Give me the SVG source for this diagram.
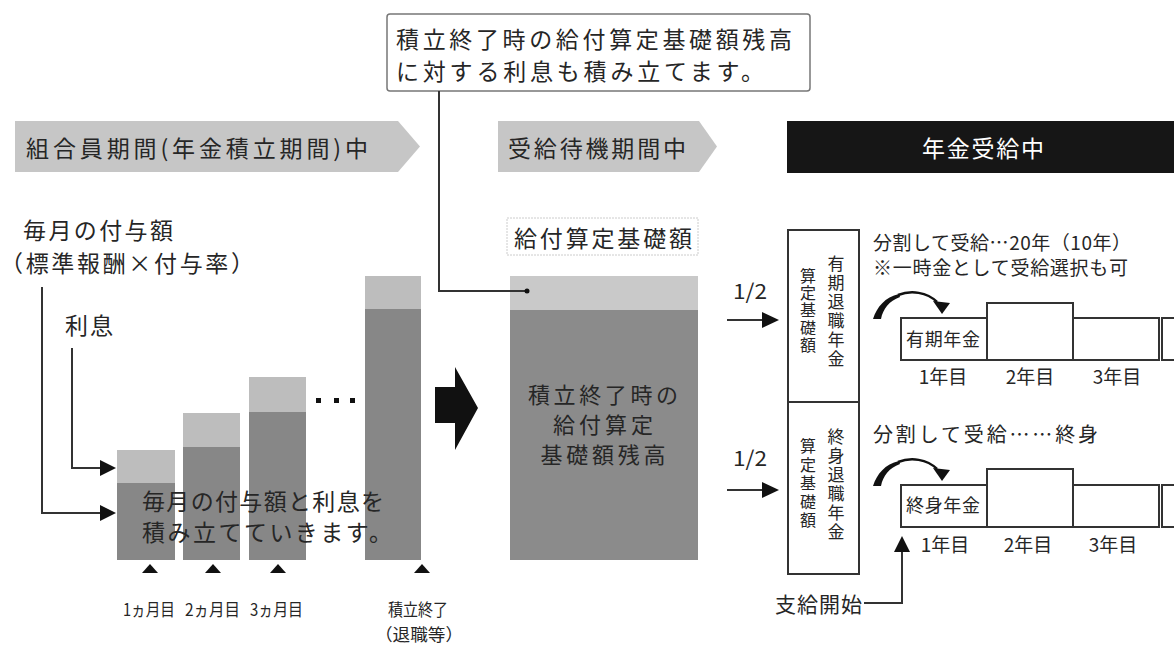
<svg xmlns="http://www.w3.org/2000/svg" width="1174" height="645" viewBox="0 0 1174 645">
<style>
.t{font-family:"Noto Sans CJK JP","Noto Sans CJK SC",sans-serif;fill:#262626;dominant-baseline:central}
.v{font-family:"Noto Sans CJK JP","Noto Sans CJK SC",sans-serif;fill:#262626;writing-mode:vertical-rl}
.m{text-anchor:middle}
.dk{fill:#878787}
.lt{fill:#bdbdbd}
.ln{stroke:#333;stroke-width:2;fill:none}
.bx{fill:#fff;stroke:#333;stroke-width:2}
.ah{fill:#111}
</style>
<rect width="1174" height="645" fill="#fff"/>

<g id="callout">
<rect x="387" y="14" width="423" height="77" rx="3" fill="#fff" stroke="#777" stroke-width="1.5"/>
<text class="t" x="396" y="38" font-size="23" textLength="396" lengthAdjust="spacing">積立終了時の給付算定基礎額残高</text>
<text class="t" x="396" y="70" font-size="23" textLength="368" lengthAdjust="spacing">に対する利息も積み立てます。</text>
</g>

<g id="header1">
<polygon points="15,121 398,121 420,146.5 398,172 15,172" fill="#c6c6c6"/>
<text class="t" x="26" y="147" font-size="23" textLength="342" lengthAdjust="spacing">組合員期間(年金積立期間)中</text>
</g>
<g id="header2">
<polygon points="498,121 699,121 717,146.5 699,172 498,172" fill="#c6c6c6"/>
<text class="t" x="508" y="147" font-size="23" textLength="178" lengthAdjust="spacing">受給待機期間中</text>
</g>
<g id="header3">
<rect x="787" y="121" width="387" height="52" fill="#161616"/>
<text class="t m" x="983" y="147" font-size="23" style="fill:#fff" textLength="122" lengthAdjust="spacing">年金受給中</text>
</g>

<g id="labels-left">
<text class="t" x="23" y="229" font-size="23" textLength="150" lengthAdjust="spacing">毎月の付与額</text>
<text class="t" x="0" y="262" font-size="23" textLength="254" lengthAdjust="spacing">（標準報酬×付与率）</text>
<text class="t" x="65" y="324" font-size="23" textLength="48" lengthAdjust="spacing">利息</text>
</g>

<g id="bars">
<rect class="lt" x="117" y="450" width="58" height="34"/><rect class="dk" x="117" y="483" width="58" height="77"/>
<rect class="lt" x="183" y="413" width="57" height="35"/><rect class="dk" x="183" y="447" width="57" height="113"/>
<rect class="lt" x="249" y="377" width="57" height="36"/><rect class="dk" x="249" y="412" width="57" height="148"/>
<rect class="lt" x="365" y="276" width="56" height="34"/><rect class="dk" x="365" y="309" width="56" height="251"/>
<rect x="316" y="398" width="5" height="5" fill="#111"/>
<rect x="334" y="398" width="5" height="5" fill="#111"/>
<rect x="350" y="398" width="5" height="5" fill="#111"/>
<text class="t" x="142" y="500" font-size="23" textLength="242" lengthAdjust="spacing">毎月の付与額と利息を</text>
<text class="t" x="142" y="531" font-size="23" textLength="250" lengthAdjust="spacing">積み立てていきます。</text>
<polygon class="ah" points="142,573 150,564 158,573"/>
<polygon class="ah" points="205,573 213,564 221,573"/>
<polygon class="ah" points="270,573 278,564 286,573"/>
<polygon class="ah" points="414,573 422,564 430,573"/>
<text class="t" x="123" y="608" font-size="17" textLength="52" lengthAdjust="spacingAndGlyphs">1ヵ月目</text>
<text class="t" x="185" y="608" font-size="17" textLength="55" lengthAdjust="spacingAndGlyphs">2ヵ月目</text>
<text class="t" x="250" y="608" font-size="17" textLength="53" lengthAdjust="spacingAndGlyphs">3ヵ月目</text>
<text class="t m" x="418" y="608" font-size="17" textLength="60" lengthAdjust="spacingAndGlyphs">積立終了</text>
<text class="t m" x="419" y="633" font-size="17" textLength="88" lengthAdjust="spacingAndGlyphs">（退職等）</text>
</g>

<g id="big-arrow">
<polygon points="435,387 455,387 455,367 478,408 455,450 455,423 435,423" fill="#111"/>
</g>

<g id="block">
<rect x="507" y="218" width="191" height="37" fill="#fff" stroke="#ccc" stroke-width="1" stroke-dasharray="2,1"/>
<text class="t m" x="603" y="237" font-size="23" textLength="178" lengthAdjust="spacing">給付算定基礎額</text>
<rect x="510" y="276" width="188" height="35" fill="#c9c9c9"/>
<rect x="510" y="310" width="188" height="250" fill="#8b8b8b"/>
<text class="t m" x="603" y="393" font-size="22" textLength="150" lengthAdjust="spacing">積立終了時の</text>
<text class="t m" x="603" y="423" font-size="22" textLength="100" lengthAdjust="spacing">給付算定</text>
<text class="t m" x="603" y="453" font-size="22" textLength="125" lengthAdjust="spacing">基礎額残高</text>
</g>

<g id="vbox-upper">
<rect class="bx" x="788" y="230" width="71" height="172"/>
<text class="v" x="836" y="255" font-size="17" letter-spacing="2">有期退職年金</text>
<text class="v" x="808" y="268" font-size="16" letter-spacing="1.2">算定基礎額</text>
</g>
<g id="vbox-lower">
<rect class="bx" x="788" y="402" width="71" height="172"/>
<text class="v" x="836" y="428" font-size="17" letter-spacing="2">終身退職年金</text>
<text class="v" x="808" y="438" font-size="16" letter-spacing="2.5">算定基礎額</text>
</g>

<g id="row-upper">
<text class="t" x="873" y="241" font-size="19" textLength="258" lengthAdjust="spacing">分割して受給…20年（10年）</text>
<text class="t" x="873" y="266" font-size="19" textLength="255" lengthAdjust="spacing">※一時金として受給選択も可</text>
<rect class="bx" x="901" y="318" width="86" height="42"/>
<rect class="bx" x="987" y="303" width="86" height="57"/>
<rect class="bx" x="1073" y="318" width="86" height="42"/>
<rect class="bx" x="1162" y="318" width="40" height="42"/>
<text class="t" x="906" y="338" font-size="18" textLength="74" lengthAdjust="spacing">有期年金</text>
<text class="t m" x="943" y="375" font-size="19">1年目</text>
<text class="t m" x="1030" y="375" font-size="19">2年目</text>
<text class="t m" x="1117" y="375" font-size="19">3年目</text>
</g>
<g id="row-lower">
<text class="t" x="873" y="433" font-size="20" textLength="225" lengthAdjust="spacing">分割して受給……終身</text>
<rect class="bx" x="901" y="485" width="86" height="42"/>
<rect class="bx" x="987" y="469" width="86" height="58"/>
<rect class="bx" x="1073" y="485" width="86" height="42"/>
<rect class="bx" x="1162" y="485" width="40" height="42"/>
<text class="t" x="906" y="504" font-size="18" textLength="74" lengthAdjust="spacing">終身年金</text>
<text class="t m" x="945" y="543" font-size="19">1年目</text>
<text class="t m" x="1028" y="543" font-size="19">2年目</text>
<text class="t m" x="1113" y="543" font-size="19">3年目</text>
<text class="t" x="775" y="603" font-size="21" textLength="87" lengthAdjust="spacing">支給開始</text>
</g>

<g id="connectors">
<polyline class="ln" points="439,91 439,291 525,291"/>
<circle cx="527" cy="291" r="2.5" fill="#111"/>
<polyline class="ln" points="42,287 42,513 101,513"/>
<polygon class="ah" points="100,505 116,513 100,521"/>
<polyline class="ln" points="72,348 72,468 101,468"/>
<polygon class="ah" points="100,460 116,468 100,476"/>
<text class="t" x="733" y="290" font-size="21" textLength="34" lengthAdjust="spacingAndGlyphs">1/2</text>
<line class="ln" x1="727" y1="320" x2="764" y2="320"/>
<polygon class="ah" points="762,312 779,320 762,328"/>
<text class="t" x="733" y="457" font-size="21" textLength="34" lengthAdjust="spacingAndGlyphs">1/2</text>
<line class="ln" x1="727" y1="490" x2="764" y2="490"/>
<polygon class="ah" points="762,482 779,490 762,498"/>
<polyline class="ln" points="864,603 902,603 902,550"/>
<polygon class="ah" points="894,552 902,536 910,552"/>
<g transform="translate(873,317)">
<path d="M0,2 C4,-10 12,-20 26,-23 L27,-20 C16,-16 10,-8 8,2 Z" fill="#111"/>
<path d="M25,-22 C38,-27 54,-25 64,-15" stroke="#111" stroke-width="2.5" fill="none"/>
<polygon class="ah" points="60,-16 77,-14 69,-3"/>
</g>
<g transform="translate(873,484)">
<path d="M0,2 C4,-10 12,-20 26,-23 L27,-20 C16,-16 10,-8 8,2 Z" fill="#111"/>
<path d="M25,-22 C38,-27 54,-25 64,-15" stroke="#111" stroke-width="2.5" fill="none"/>
<polygon class="ah" points="60,-16 77,-14 69,-3"/>
</g>
</g>
</svg>
